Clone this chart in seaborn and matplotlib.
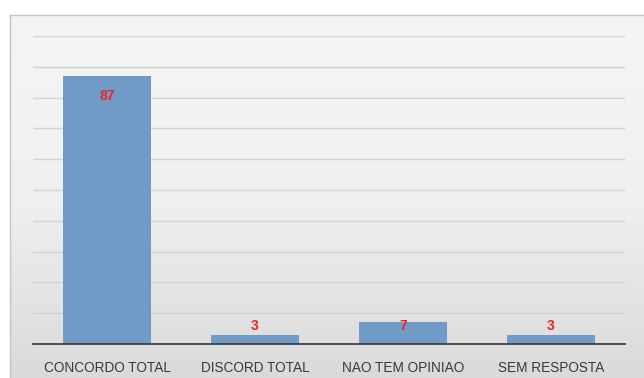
import matplotlib
matplotlib.use("Agg")
import matplotlib.pyplot as plt
import seaborn as sns
import numpy as np
import pandas as pd
from matplotlib.colors import LinearSegmentedColormap

categories = ["CONCORDO TOTAL", "DISCORD TOTAL", "NAO TEM OPINIAO", "SEM RESPOSTA"]
values = [87, 3, 7, 3]

df = pd.DataFrame({"cat": categories, "val": values})

sns.set_theme(style="white")
plt.rcParams['font.family'] = ['Liberation Sans Narrow', 'Liberation Sans', 'DejaVu Sans']

fig = plt.figure(figsize=(6.44, 3.78), dpi=100)
fig.patch.set_facecolor("white")

# panel background with vertical gradient
bg = fig.add_axes([10/644, 0, 1 - 10/644, 1 - 15/378])
grad = np.linspace(0, 1, 256).reshape(-1, 1)
cmap = LinearSegmentedColormap.from_list("g", ["#f5f5f5", "#f0f0f0", "#dadada"])
bg.imshow(grad, aspect="auto", cmap=cmap, extent=[0, 1, 0, 1], origin="upper")
bg.set_xlim(0, 1); bg.set_ylim(0, 1)
bg.set_xticks([]); bg.set_yticks([])
for s in bg.spines.values():
    s.set_color("#c4c4c4"); s.set_linewidth(1.0)
bg.spines["right"].set_visible(False)
bg.spines["bottom"].set_visible(False)
bg.set_zorder(0)

ax = fig.add_axes([33/644, 1 - 344/378, (625 - 33)/644, (344 - 36)/378])
ax.set_zorder(1)
ax.patch.set_alpha(0)
sns.barplot(data=df, x="cat", y="val", color="#6f9bc6", saturation=1, width=0.6,
            linewidth=0, ax=ax)
ax.set_ylim(0, 100)
ax.set_xlim(-0.5, 3.5)
ax.set_yticks(np.arange(10, 101, 10))
ax.yaxis.grid(True, color="#d2d2d2", linewidth=1.0)
ax.set_axisbelow(True)
ax.set_yticklabels([])
ax.tick_params(axis="y", length=0)
ax.tick_params(axis="x", length=0, pad=12, labelsize=9.8, labelcolor="#3a3a3a")
ax.set_xlabel(""); ax.set_ylabel("")
for s in ["top", "right", "left"]:
    ax.spines[s].set_visible(False)
ax.spines["bottom"].set_color("#404040")
ax.spines["bottom"].set_linewidth(1.3)

for i, v in enumerate(values):
    y = v - 6.5 if v > 10 else 5.8
    ax.text(i, y, str(v), ha="center", va="center", color="#e8232a",
            fontsize=10, fontweight="bold")

fig.savefig("out.png", dpi=100)
